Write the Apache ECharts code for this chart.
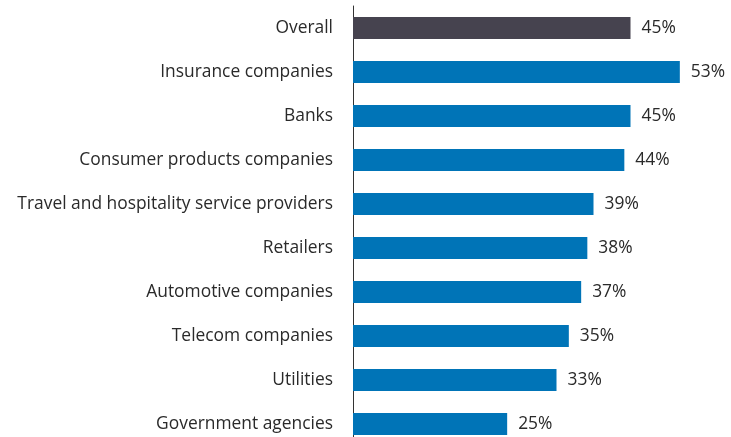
<!DOCTYPE html>
<html><head><meta charset="utf-8">
<script src="https://cdn.jsdelivr.net/npm/echarts@6/dist/echarts.min.js"></script>
<style>html,body{margin:0;padding:0;background:#fff}#c{width:731px;height:437px}</style>
</head><body><div id="c"></div>
<script>
const categories = ["Overall","Insurance companies","Banks","Consumer products companies","Travel and hospitality service providers","Retailers","Automotive companies","Telecom companies","Utilities","Government agencies"];
const values = [45,53,45,44,39,38,37,35,33,25];
const colors = ["#46434f","#0074b7"];
const chart = echarts.init(document.getElementById('c'));
chart.setOption({
  animation:false,
  grid:{left:353, top:6, width:370, height:440, containLabel:false, outerBoundsMode:'none'},
  xAxis:{type:'value', min:0, max:60, show:false},
  yAxis:{type:'category', inverse:true, data:categories,
    axisLine:{show:true, lineStyle:{color:'#333', width:1}},
    axisTick:{show:false},
    axisLabel:{color:'#2a2a2a', fontSize:17.4, fontFamily:'Open Sans', margin:20}},
  series:[{type:'bar', barWidth:22,
    data: values.map((v,i)=>({value:v, itemStyle:{color: i===0?colors[0]:colors[1]}})),
    label:{show:true, position:'right', distance:11, formatter:'{c}%', color:'#2a2a2a', fontSize:17.4, fontFamily:'Open Sans'}}]
});
</script></body></html>
